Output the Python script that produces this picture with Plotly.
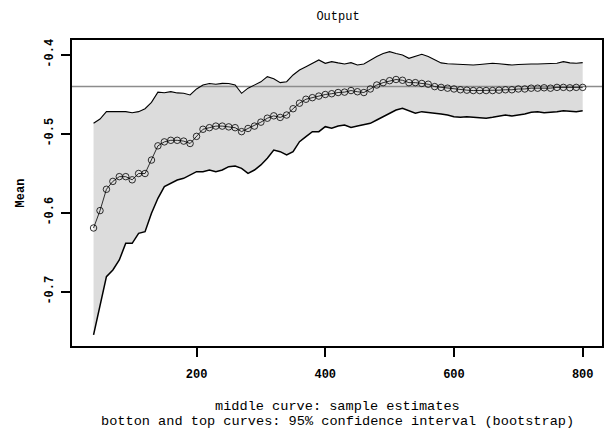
import plotly.graph_objects as go

x_vals = list(range(40, 801, 10))

mean_vals = [
    -0.619, -0.597, -0.570, -0.560, -0.554, -0.554, -0.558, -0.550, -0.550, -0.533,
    -0.515, -0.510, -0.508, -0.508, -0.509, -0.512, -0.503, -0.494, -0.492, -0.490,
    -0.490, -0.491, -0.492, -0.497, -0.493, -0.490, -0.485, -0.480, -0.477, -0.479,
    -0.476, -0.468, -0.461, -0.456, -0.454, -0.452, -0.450, -0.449, -0.4475, -0.447,
    -0.445, -0.4465, -0.4475, -0.443, -0.438, -0.435, -0.4325, -0.431, -0.432, -0.435,
    -0.435, -0.436, -0.437, -0.440, -0.441, -0.442, -0.443, -0.444, -0.4445, -0.445,
    -0.445, -0.445, -0.445, -0.4445, -0.444, -0.444, -0.443, -0.443, -0.442, -0.442,
    -0.4415, -0.442, -0.441, -0.441, -0.4415, -0.441, -0.441,
]

upper_vals = [
    -0.4865, -0.481, -0.4717, -0.4717, -0.4717, -0.4717, -0.473, -0.4717, -0.468, -0.460,
    -0.447, -0.4477, -0.4464, -0.448, -0.4485, -0.4506, -0.443, -0.438, -0.436, -0.437,
    -0.4359, -0.436, -0.438, -0.4485, -0.442, -0.438, -0.434, -0.4274, -0.430, -0.435,
    -0.4338, -0.4253, -0.419, -0.4148, -0.4105, -0.4063, -0.4105, -0.4084, -0.410, -0.4114,
    -0.4097, -0.4127, -0.4114, -0.4063, -0.402, -0.398, -0.3958, -0.398, -0.400, -0.4042,
    -0.402, -0.399, -0.402, -0.406, -0.410, -0.411, -0.4114, -0.412, -0.4115, -0.4127,
    -0.412, -0.411, -0.4105, -0.411, -0.4114, -0.4127, -0.412, -0.4114, -0.4114, -0.4114,
    -0.4114, -0.411, -0.4105, -0.4084, -0.410, -0.4105, -0.4097,
]

lower_vals = [
    -0.7544, -0.7186, -0.6806, -0.6722, -0.6595, -0.6384, -0.6384, -0.6257, -0.6236, -0.6004,
    -0.5814, -0.5667, -0.5624, -0.5582, -0.5561, -0.5519, -0.5477, -0.5477, -0.5456, -0.5477,
    -0.5456, -0.5414, -0.5405, -0.5435, -0.5498, -0.5456, -0.5392, -0.5308, -0.5203, -0.5224,
    -0.5266, -0.5224, -0.5097, -0.5034, -0.4971, -0.4971, -0.4907, -0.4928, -0.4899, -0.4886,
    -0.4916, -0.4899, -0.4886, -0.4865, -0.4823, -0.4781, -0.4738, -0.4696, -0.4675, -0.4705,
    -0.4738, -0.4717, -0.473, -0.4738, -0.4747, -0.4759, -0.4781, -0.4789, -0.4781, -0.4789,
    -0.4795, -0.4802, -0.4789, -0.4775, -0.4759, -0.4772, -0.476, -0.4747, -0.4725, -0.4717,
    -0.473, -0.4725, -0.4717, -0.4705, -0.471, -0.4717, -0.4705,
]

ref_value = -0.44
x_ticks = [200, 400, 600, 800]
y_ticks = [-0.7, -0.6, -0.5, -0.4]
y_ticklabels = ["-0.7", "-0.6", "-0.5", "-0.4"]

title_text = "Output"
y_title = "Mean"
caption_1 = "middle curve: sample estimates"
caption_2 = "botton and top curves: 95% confidence interval (bootstrap)"

FONT = "Liberation Mono"

fig = go.Figure()

# shaded band (fill only)
fig.add_trace(go.Scatter(
    x=x_vals + x_vals[::-1], y=upper_vals + lower_vals[::-1],
    fill="toself", fillcolor="#dcdcdc", line=dict(width=0),
    mode="lines", hoverinfo="skip", showlegend=False,
))
# reference line
fig.add_trace(go.Scatter(
    x=[0, 900], y=[ref_value, ref_value], mode="lines",
    line=dict(color="#8c8c8c", width=1.5), showlegend=False,
))
# lower / upper curves
fig.add_trace(go.Scatter(x=x_vals, y=lower_vals, mode="lines",
                         line=dict(color="black", width=1.5), showlegend=False))
fig.add_trace(go.Scatter(x=x_vals, y=upper_vals, mode="lines",
                         line=dict(color="black", width=1.1), showlegend=False))
# mean curve
fig.add_trace(go.Scatter(
    x=x_vals, y=mean_vals, mode="lines+markers",
    line=dict(color="black", width=0.8),
    marker=dict(symbol="circle-open", size=6.5, color="black", line=dict(width=0.8)),
    showlegend=False,
))

fig.update_layout(
    width=605, height=429,
    margin=dict(l=72, r=1, t=40, b=83),
    paper_bgcolor="white", plot_bgcolor="white",
    font=dict(family=FONT, color="black", size=12),
    title=dict(text=title_text, x=(72 + 604) / 2 / 605, xanchor="center",
               y=1 - 16 / 429, yanchor="middle",
               font=dict(family=FONT, size=12, color="black")),
    xaxis=dict(
        range=[6.5, 830], tickvals=x_ticks, ticktext=[str(v) for v in x_ticks],
        showgrid=False, zeroline=False,
        showline=True, mirror=True, linecolor="black", linewidth=2,
        ticks="outside", ticklen=9, tickwidth=1.5, tickcolor="black",
        ticklabelstandoff=7,
        tickfont=dict(family=FONT, size=12, color="black", weight="bold"),
    ),
    yaxis=dict(
        range=[-0.7684, -0.381], tickvals=y_ticks, ticktext=y_ticklabels,
        tickangle=-90,
        showgrid=False, zeroline=False,
        showline=True, mirror=True, linecolor="black", linewidth=2,
        ticks="outside", ticklen=9, tickwidth=1.5, tickcolor="black",
        ticklabelstandoff=3,
        tickfont=dict(family=FONT, size=12, color="black", weight="bold"),
        title=dict(text=y_title, standoff=16,
                   font=dict(family=FONT, size=12, color="black", weight="bold")),
    ),
    annotations=[
        dict(text=caption_1, xref="paper", yref="paper",
             x=0.5, y=(346 - 406) / 306, xanchor="center", yanchor="middle",
             showarrow=False, font=dict(family=FONT, size=13.6, color="black")),
        dict(text=caption_2, xref="paper", yref="paper",
             x=0.5, y=(346 - 421) / 306, xanchor="center", yanchor="middle",
             showarrow=False, font=dict(family=FONT, size=13.6, color="black")),
    ],
)

fig.write_html("out.html", config={"displayModeBar": False},
               post_script="document.body.style.margin='0';")
